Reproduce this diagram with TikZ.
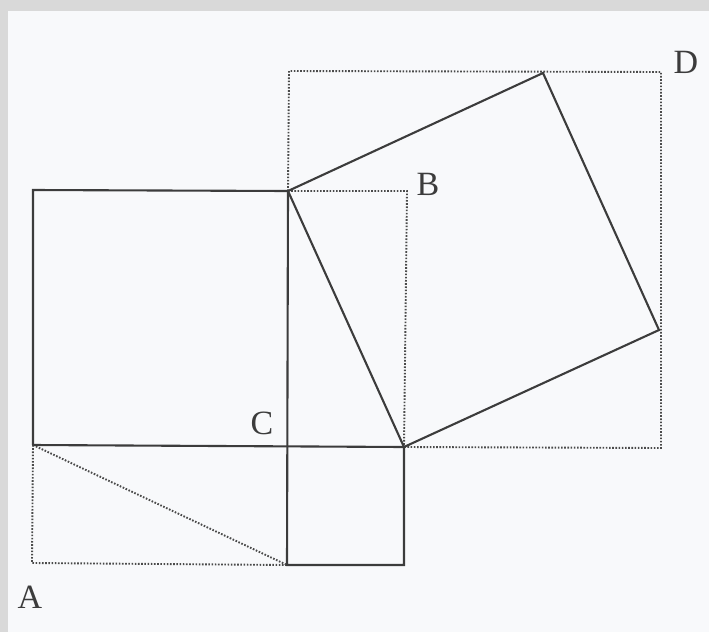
\documentclass[tikz,border=0pt]{standalone}
\usepackage{fontspec}
\setmainfont{Liberation Serif}
\definecolor{bgpaper}{HTML}{F8F9FB}
\definecolor{bandgray}{HTML}{D9D9D9}
\definecolor{inkline}{HTML}{3C3C3C}
\definecolor{dotline}{HTML}{4A4A4A}
\tikzset{
  solidedge/.style={draw=inkline, line width=2.1pt, line join=miter},
  dotedge/.style={draw=dotline, line width=1.9pt, dash pattern=on 1.6pt off 1.6pt},
  lbl/.style={font=\fontsize{34}{38}\selectfont, text=inkline, inner sep=0pt}
}
\begin{document}
\begin{tikzpicture}[x=1pt,y=-1pt]
\useasboundingbox (0,0) rectangle (709,632);
\fill[bandgray] (0,0) rectangle (709,632);
\fill[bgpaper] (8,11) rectangle (709,632);
% vertices
\coordinate (P1) at (33,190);   % big square top-left
\coordinate (Bv) at (288,191);  % top of vertical leg
\coordinate (Cv) at (288,446);  % right angle
\coordinate (P2) at (33,445);   % big square bottom-left
\coordinate (Rv) at (404,447);  % end of horizontal leg
\coordinate (S1) at (404,565);  % small square
\coordinate (S2) at (287,565);
\coordinate (T1) at (543,73);   % tilted square
\coordinate (T2) at (659,330);
\coordinate (Dtl) at (289,71);  % outer dotted rect
\coordinate (Dtr) at (661,72);
\coordinate (Dbr) at (661,448);
\coordinate (Btr) at (407,191);
\coordinate (Abl) at (32,563);
% dotted construction
\draw[dotedge] (Bv) -- (Dtl) -- (Dtr) -- (Dbr) -- (Rv);
\draw[dotedge] (Bv) -- (Btr) -- (Rv);
\draw[dotedge] (P2) -- (Abl) -- (S2);
\draw[dotedge] (P2) -- (S2);
% solid figure
\draw[solidedge] (P2) -- (P1) -- (Bv);
\draw[solidedge] (P2) -- (Rv);
\draw[solidedge] (Bv) -- (S2) -- (S1) -- (Rv);
\draw[solidedge] (Bv) -- (Rv);
\draw[solidedge] (Bv) -- (T1) -- (T2) -- (Rv);
% labels
\node[lbl] (labD) at (686,62) {D};
\node[lbl] (labB) at (428,184) {B};
\node[lbl] (labC) at (262,423) {C};
\node[lbl] (labA) at (30,597) {A};
\end{tikzpicture}
\end{document}
